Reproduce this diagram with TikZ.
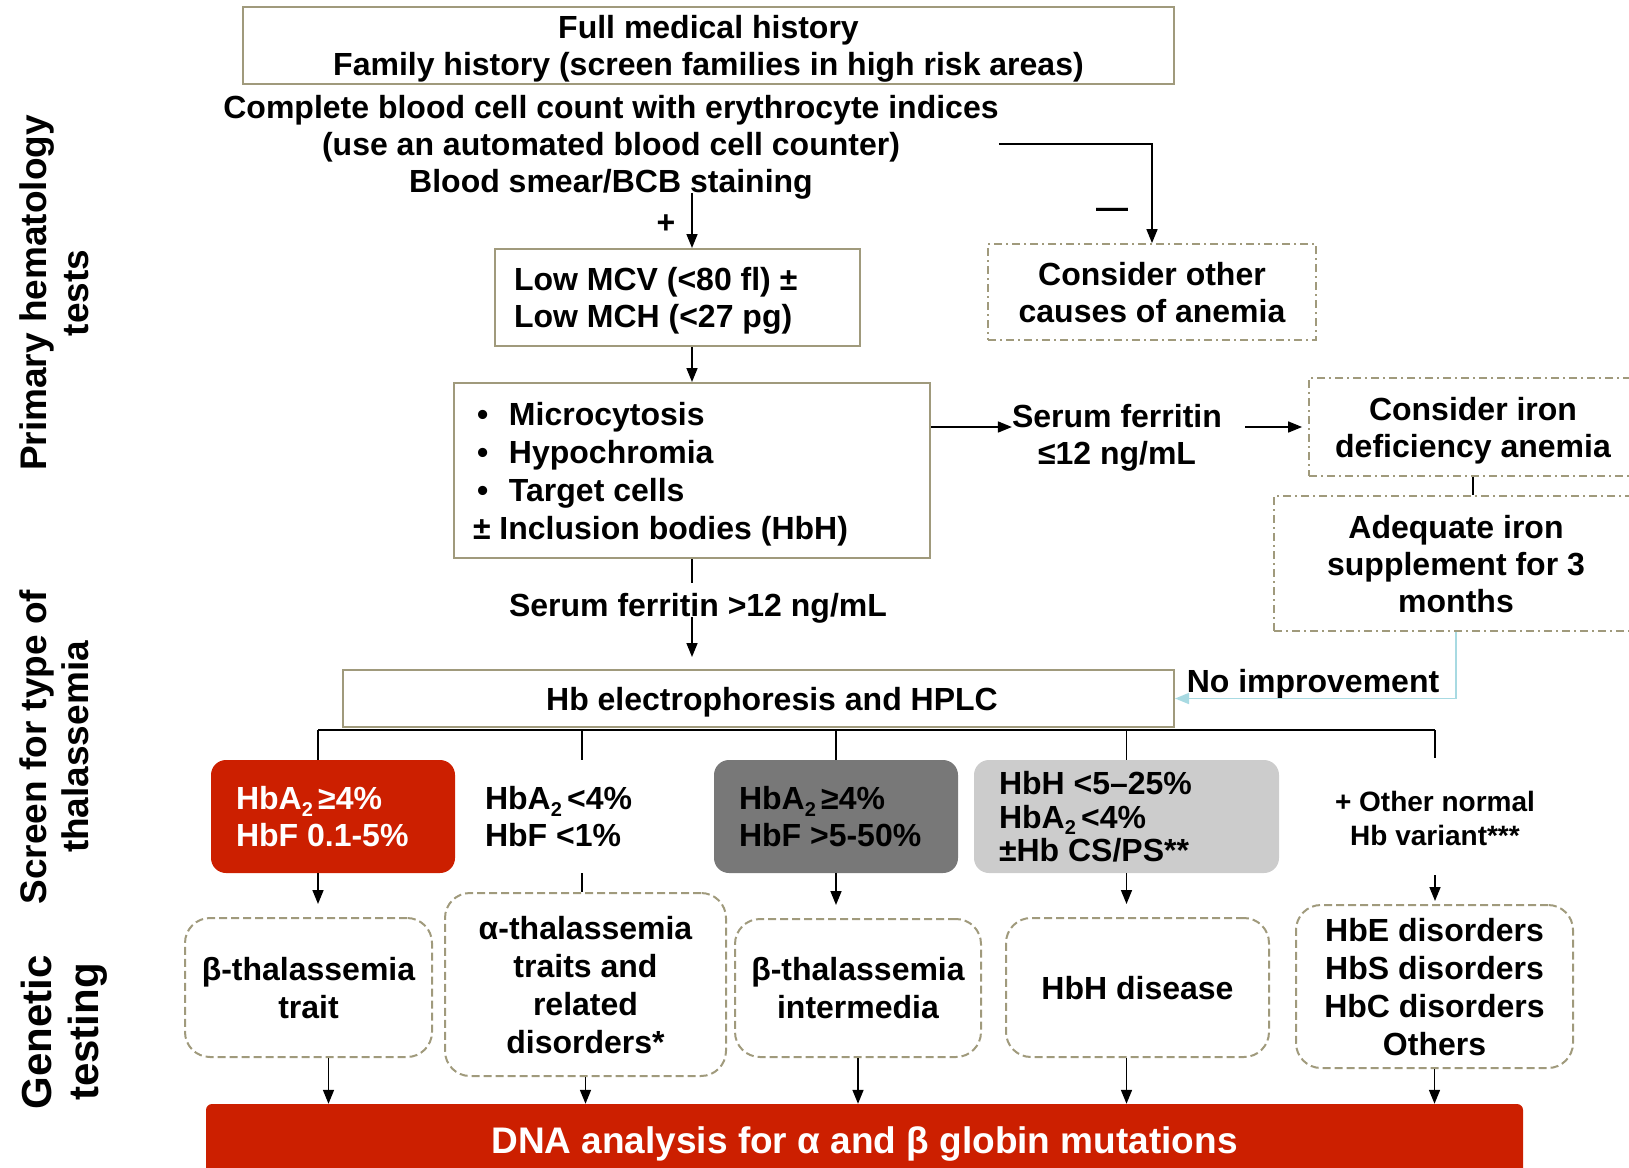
\documentclass[tikz,border=0pt]{standalone}
\usepackage{fontspec}
\setmainfont{Liberation Sans}
\definecolor{flowKhaki}{HTML}{A09A7C}
\definecolor{flowRed}{HTML}{CC1F00}
\definecolor{flowDark}{HTML}{787878}
\definecolor{flowLight}{HTML}{CCCCCC}
\definecolor{flowBlue}{HTML}{A8DAE2}
\usepackage{tikz}
\usetikzlibrary{arrows.meta, positioning}
\newcommand{\hbsub}{\raisebox{-0.2em}{\fontsize{20}{20}\selectfont 2}\,}
\newcommand{\bulletline}[1]{\hspace*{4pt}\makebox[32pt][l]{•}#1}

\begin{document}
\begin{tikzpicture}[x=1pt, y=-1pt,
    every node/.style={font=\fontsize{32}{37}\selectfont\bfseries, inner sep=0pt, text depth=0pt},
    conn/.style={line width=1.6pt},
    arr/.style={conn, -{Triangle[length=14pt, width=11pt]}},
    plainbox/.style={draw=flowKhaki, line width=2pt},
    dashdotbox/.style={draw=flowKhaki, line width=1.8pt, dash pattern=on 8pt off 4pt on 2pt off 4pt, align=center},
    genbox/.style={draw=flowKhaki, line width=2pt, dash pattern=on 8pt off 4pt, rounded corners=25pt, align=center, font=\fontsize{32}{38}\selectfont\bfseries},
    rowbox/.style={minimum width=244pt, minimum height=113pt, inner xsep=25pt, rounded corners=15pt},
    sidelabel/.style={rotate=90, align=center, font=\fontsize{37}{42}\selectfont\bfseries}]

    \useasboundingbox (0,0) rectangle (1629,1167);
    \clip (0,0) rectangle (1629,1167);

    % Side labels
    \node[sidelabel] (lblPrimary) at (54,293) {Primary hematology\\tests};
    \node[sidelabel] (lblScreen) at (54,747) {Screen for type of\\thalassemia};
    \node[sidelabel, font=\fontsize{42}{47}\selectfont\bfseries] (lblGenetic) at (59.5,1032) {Genetic\\testing};

    % Primary tests
    \node[plainbox, line width=1.5pt, minimum width=931pt, minimum height=77pt, align=center] (history) at (708.5,45.5) {Full medical history\\Family history (screen families in high risk areas)};
    \node[align=center] (cbc) at (611,144) {Complete blood cell count with erythrocyte indices\\(use an automated blood cell counter)\\Blood smear/BCB staining};
    \node (plus) at (666,224) {+};
    \node (minus) at (1112,213) {—};
    \node[plainbox, minimum width=365pt, minimum height=97pt, inner xsep=19pt] (lowmcv) at (677.5,297.5) {\parbox[b]{327pt}{Low MCV (<80 fl) ±\\Low MCH (<27 pg)}};
    \node[dashdotbox, minimum width=328pt, minimum height=96pt] (other) at (1152,292) {Consider other\\causes of anemia};
    \node[plainbox, minimum width=476pt, minimum height=175pt, inner xsep=19pt, font=\fontsize{32}{38}\selectfont\bfseries] (cells) at (692,470.5) {\parbox[b]{438pt}{\bulletline{Microcytosis}\\\bulletline{Hypochromia}\\\bulletline{Target cells}\\± Inclusion bodies (HbH)}};

    % Iron branch
    \node[align=center] (ferlow) at (1117,434.5) {Serum ferritin\\≤12 ng/mL};
    \node[dashdotbox, minimum width=328pt, minimum height=98pt] (iron) at (1473,427) {Consider iron\\deficiency anemia};
    \node[dashdotbox, minimum width=364pt, minimum height=135pt] (adequate) at (1456,563.5) {Adequate iron\\supplement for 3\\months};
    \node (noimp) at (1313,681) {No improvement};

    % Screening
    \node (ferhigh) at (698,605) {Serum ferritin >12 ng/mL};
    \node[plainbox, minimum width=831pt, minimum height=57pt] (elec) at (758.5,698.5) {\hspace*{27pt}Hb electrophoresis and HPLC};
    \node[rowbox, fill=flowRed, text=white] (typeA) at (333,816.5) {\parbox[b]{194pt}{HbA\hbsub≥4\%\\HbF 0.1-5\%}};
    \node[rowbox] (typeB) at (582,816.5) {\parbox[b]{194pt}{HbA\hbsub<4\%\\HbF <1\%}};
    \node[rowbox, fill=flowDark] (typeC) at (836,816.5) {\parbox[b]{194pt}{HbA\hbsub≥4\%\\HbF >5-50\%}};
    \node[rowbox, fill=flowLight, minimum width=305pt, font=\fontsize{32}{33.5}\selectfont\bfseries] (typeD) at (1126.5,816.5) {\parbox[b]{255pt}{HbH <5–25\%\\HbA\hbsub<4\%\\±Hb CS/PS**}};
    \node[rowbox, align=center, font=\fontsize{28}{34}\selectfont\bfseries] (typeE) at (1435,818.5) {+ Other normal\\Hb variant***};

    % Genetic testing
    \node[genbox, minimum width=247pt, minimum height=139pt] (gBeta) at (308.5,987.5) {β-thalassemia\\trait};
    \node[genbox, minimum width=281pt, minimum height=183pt] (gAlpha) at (585.5,984.5) {α-thalassemia\\traits and\\related\\disorders*};
    \node[genbox, minimum width=246pt, minimum height=138pt] (gInter) at (858,988) {β-thalassemia\\intermedia};
    \node[genbox, minimum width=263pt, minimum height=139pt] (gHbH) at (1137.5,987.5) {HbH disease};
    \node[genbox, minimum width=277pt, minimum height=163pt] (gVar) at (1434.5,986.5) {HbE disorders\\HbS disorders\\HbC disorders\\Others};
    \node[fill=flowRed, text=white, rounded corners=6pt, minimum width=1317pt, minimum height=72pt, font=\fontsize{37}{40}\selectfont\bfseries] (dna) at (864.5,1140) {DNA analysis for α and β globin mutations};

    % Connectors
    \draw[arr] (cbc.south -| cells.north) -- (lowmcv.north -| cells.north);
    \draw[arr] (cbc.east) -| (other.north);
    \draw[arr] (lowmcv.south -| cells.north) -- (cells.north);
    \draw[arr] (cells.east |- iron) -- (ferlow.west |- iron);
    \draw[arr, shorten <=23pt, shorten >=6pt] (ferlow.east |- iron) -- (iron.west);
    \draw[conn] (iron.south) -- (iron.south |- adequate.north);
    \draw[arr, color=flowBlue] (adequate.south) |- (elec.east);
    \draw[conn] (cells.south) -- ++(0,24);
    \draw[arr, shorten >=12pt] (ferhigh.south -| cells.south) -- (elec.north -| cells.south);

    % Branches
    \coordinate (bar) at (0,730);
    \draw[conn] ([xshift=-15pt]typeA.north |- bar) -- (typeE.north |- bar);
    \draw[conn] ([xshift=-15pt]typeA.north |- bar) -- ([xshift=-15pt]typeA.north);
    \foreach \t in {typeB,typeC,typeD}
        \draw[conn] (\t.north |- bar) -- (\t.north);
    \draw[conn] (typeE.north |- bar) -- ++(0,28);
    \draw[arr, shorten >=13pt] ([xshift=-15pt]typeA.south) -- ([xshift=-15pt]typeA.south |- gBeta.north);
    \draw[conn] (typeB.south) -- (typeB.south |- gAlpha.north);
    \draw[arr, shorten >=13pt] (typeC.south) -- (typeC.south |- gInter.north);
    \draw[arr, shorten >=13pt] (typeD.south) -- (typeD.south |- gHbH.north);
    \draw[arr, shorten >=3pt] (typeE.south) -- (typeE.south |- gVar.north);
    \draw[arr] ([xshift=20pt]gBeta.south) -- ([xshift=20pt]gBeta.south |- dna.north);
    \draw[arr] ([xshift=-11pt]gHbH.south) -- ([xshift=-11pt]gHbH.south |- dna.north);
    \foreach \g in {gAlpha,gInter,gVar}
        \draw[arr] (\g.south) -- (\g.south |- dna.north);
\end{tikzpicture}
\end{document}
